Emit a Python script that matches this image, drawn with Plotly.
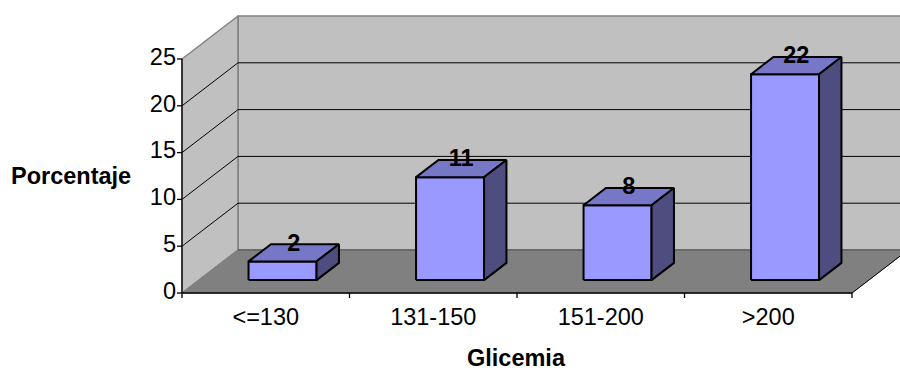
import plotly.graph_objects as go

# ---- data ----
categories = ["<=130", "131-150", "151-200", ">200"]
values = [2, 11, 8, 22]
y_ticks = [0, 5, 10, 15, 20, 25]
x_title = "Glicemia"
y_title = "Porcentaje"

# ---- geometry / style ----
W, H = 900, 371
ORIG_X, ORIG_Y = 182, 293          # pixel of (0, 0)
PX_CAT = 167.5                      # pixels per category
PX_UNIT = 9.36                      # pixels per value unit
DX = 56 / PX_CAT                    # depth offset in x (data units)
DY = 43 / PX_UNIT                   # depth offset in y (data units)
YMAX = max(y_ticks)
N = len(categories)
HW = 34 / PX_CAT                    # bar half width
D0, D1 = 0.30, 0.70                 # bar depth span (fraction)
FONT = "Liberation Sans, Arial, sans-serif"
FS = 23.5

def px_x(p):
    return p / PX_CAT

def px_y(p):
    return p / PX_UNIT

fig = go.Figure()

def poly(xs, ys, fill, line_color, lw):
    fig.add_trace(go.Scatter(
        x=list(xs) + [xs[0]], y=list(ys) + [ys[0]], mode="lines",
        fill="toself", fillcolor=fill,
        line=dict(color=line_color, width=lw),
        hoverinfo="skip", showlegend=False))

def seg(xs, ys, color, lw):
    fig.add_trace(go.Scatter(x=xs, y=ys, mode="lines",
                             line=dict(color=color, width=lw),
                             hoverinfo="skip", showlegend=False))

# back wall
poly([DX, N + DX, N + DX, DX], [DY, DY, YMAX + DY, YMAX + DY],
     "#C0C0C0", "#808080", 1.5)
# side wall
poly([0, DX, DX, 0], [0, DY, YMAX + DY, YMAX], "#C0C0C0", "#808080", 1.5)
# floor
poly([0, N, N + DX, DX], [0, 0, DY, DY], "#808080", "#808080", 1)
seg([N, N + DX], [0, DY], "#000000", 1)
seg([DX, N + DX], [DY, DY], "#606060", 1.5)

# gridlines (side wall diagonal + back wall horizontal)
gx, gy = [], []
for v in y_ticks[1:-1]:
    gx += [0, DX, N + DX, None]
    gy += [v, v + DY, v + DY, None]
seg(gx, gy, "#000000", 1)

# axis lines
seg([0, 0], [0, YMAX], "#000000", 1.3)
seg([0, N], [0, 0], "#000000", 1.3)

# y ticks
tx, ty = [], []
for v in y_ticks:
    tx += [px_x(-5), 0, None]
    ty += [v, v, None]
seg(tx, ty, "#000000", 1.3)
# x ticks
tx, ty = [], []
for i in range(N + 1):
    tx += [i, i, None]
    ty += [0, px_y(-5), None]
seg(tx, ty, "#000000", 1.3)

# bars
for i, v in enumerate(values):
    c = i + 0.5
    xl, xr = c - HW, c + HW
    # front face
    poly([xl + D0 * DX, xr + D0 * DX, xr + D0 * DX, xl + D0 * DX],
         [D0 * DY, D0 * DY, v + D0 * DY, v + D0 * DY],
         "#9999FF", "#000000", 2)
    # top face
    poly([xl + D0 * DX, xr + D0 * DX, xr + D1 * DX, xl + D1 * DX],
         [v + D0 * DY, v + D0 * DY, v + D1 * DY, v + D1 * DY],
         "#7777C8", "#000000", 2)
    # right side face
    poly([xr + D0 * DX, xr + D1 * DX, xr + D1 * DX, xr + D0 * DX],
         [D0 * DY, D1 * DY, v + D1 * DY, v + D0 * DY],
         "#4D4D80", "#000000", 2)

# value labels
fig.add_trace(go.Scatter(
    x=[i + 0.5 + 0.5 * DX for i in range(N)],
    y=[v + 0.5 * DY + px_y(8) for v in values],
    mode="text", text=[str(v) for v in values],
    textposition="middle center",
    textfont=dict(family=FONT, size=FS, color="#000000", weight="bold"),
    hoverinfo="skip", showlegend=False, cliponaxis=False))

# y tick labels
fig.add_trace(go.Scatter(
    x=[px_x(-6)] * len(y_ticks), y=y_ticks, mode="text",
    text=[str(v) for v in y_ticks], textposition="middle left",
    textfont=dict(family=FONT, size=FS, color="#000000"),
    hoverinfo="skip", showlegend=False, cliponaxis=False))

# x tick labels
fig.add_trace(go.Scatter(
    x=[i + 0.5 for i in range(N)], y=[px_y(-26)] * N, mode="text",
    text=categories, textposition="middle center",
    textfont=dict(family=FONT, size=FS, color="#000000"),
    hoverinfo="skip", showlegend=False, cliponaxis=False))

# axis titles
fig.add_annotation(x=px_x(71 - ORIG_X), y=px_y(ORIG_Y - 176), xref="x", yref="y",
                   text="<b>%s</b>" % y_title, showarrow=False,
                   font=dict(family=FONT, size=FS, color="#000000"))
fig.add_annotation(x=px_x(516 - ORIG_X), y=px_y(ORIG_Y - 358), xref="x", yref="y",
                   text="<b>%s</b>" % x_title, showarrow=False,
                   font=dict(family=FONT, size=FS, color="#000000"))

fig.update_layout(
    width=W, height=H, margin=dict(l=0, r=0, t=0, b=0),
    paper_bgcolor="white", plot_bgcolor="white",
    xaxis=dict(range=[px_x(-ORIG_X), px_x(W - ORIG_X)], visible=False, fixedrange=True),
    yaxis=dict(range=[px_y(ORIG_Y - H), px_y(ORIG_Y)], visible=False, fixedrange=True),
    showlegend=False,
)

fig.write_html("out.html", config={"displayModeBar": False},
               post_script="document.body.style.margin='0';document.body.style.overflow='hidden';")
